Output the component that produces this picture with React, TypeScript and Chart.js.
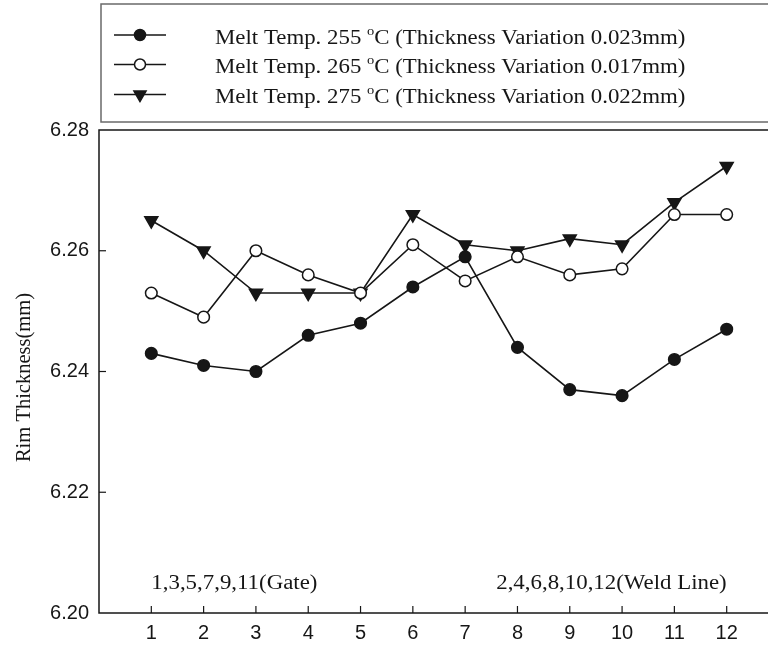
import React, { useEffect, useRef } from "react";
import { Chart, registerables } from "chart.js";

Chart.register(...registerables);

// ---- data ----
const positions = [1, 2, 3, 4, 5, 6, 7, 8, 9, 10, 11, 12];
const melt255 = [6.243, 6.241, 6.24, 6.246, 6.248, 6.254, 6.259, 6.244, 6.237, 6.236, 6.242, 6.247];
const melt265 = [6.253, 6.249, 6.26, 6.256, 6.253, 6.261, 6.255, 6.259, 6.256, 6.257, 6.266, 6.266];
const melt275 = [6.265, 6.26, 6.253, 6.253, 6.253, 6.266, 6.261, 6.26, 6.262, 6.261, 6.268, 6.274];
const seriesLabels = [
  "Melt Temp. 255 °C (Thickness Variation 0.023mm)",
  "Melt Temp. 265 °C (Thickness Variation 0.017mm)",
  "Melt Temp. 275 °C (Thickness Variation 0.022mm)",
];
const xTickLabels = ["1", "2", "3", "4", "5", "6", "7", "8", "9", "10", "11", "12"];
const yTickValues = [6.2, 6.22, 6.24, 6.26, 6.28];
const yTitle = "Rim Thickness(mm)";
const noteTexts = ["1,3,5,7,9,11(Gate)", "2,4,6,8,10,12(Weld Line)"];
const noteAnchorsX = [1, 12];
const noteAnchorY = 6.204;

// ---- style ----
const INK = "#161616";
const CANVAS_W = 800;
const CANVAS_H = 646;
const SERIF = '"Liberation Serif", "Times New Roman", serif';
const SANS = '"Liberation Sans", Arial, sans-serif';
const STRETCH = 1.115;

type MarkerKind = "filled" | "open" | "tri";
const markerKinds: MarkerKind[] = ["filled", "open", "tri"];

function drawMarker(ctx: CanvasRenderingContext2D, kind: MarkerKind, x: number, y: number) {
  ctx.save();
  ctx.lineWidth = 1.5;
  ctx.strokeStyle = INK;
  ctx.beginPath();
  if (kind === "tri") {
    const r = 7;
    ctx.moveTo(x, y + r);
    ctx.lineTo(x - r * Math.sin(Math.PI / 3), y - r / 2);
    ctx.lineTo(x + r * Math.sin(Math.PI / 3), y - r / 2);
    ctx.closePath();
    ctx.fillStyle = INK;
  } else {
    ctx.arc(x, y, 5.5, 0, Math.PI * 2);
    ctx.fillStyle = kind === "filled" ? INK : "#ffffff";
  }
  ctx.fill();
  ctx.stroke();
  ctx.restore();
}

// draws text with slight horizontal stretch, returns the advance width
function wideText(ctx: CanvasRenderingContext2D, text: string, x: number, y: number, font: string, align: CanvasTextAlign) {
  ctx.save();
  ctx.font = font;
  ctx.translate(x, y);
  ctx.scale(STRETCH, 1);
  ctx.textAlign = align;
  ctx.fillText(text, 0, 0);
  const w = ctx.measureText(text).width * STRETCH;
  ctx.restore();
  return w;
}

const framePlugin = {
  id: "frameAndExtras",
  afterDraw(chart: any) {
    const { ctx, chartArea } = chart;
    const xs = chart.scales.x;
    const ys = chart.scales.y;
    ctx.save();
    // plot frame
    ctx.strokeStyle = INK;
    ctx.lineWidth = 1.5;
    ctx.strokeRect(chartArea.left, chartArea.top, chartArea.right - chartArea.left, chartArea.bottom - chartArea.top);
    // inward ticks
    ctx.lineWidth = 1.2;
    ys.ticks.forEach((t: any) => {
      if (t.value <= ys.min + 1e-9 || t.value >= ys.max - 1e-9) return;
      const py = ys.getPixelForValue(t.value);
      ctx.beginPath();
      ctx.moveTo(chartArea.left, py);
      ctx.lineTo(chartArea.left + 7, py);
      ctx.stroke();
    });
    xs.ticks.forEach((t: any) => {
      if (t.value < 1 || t.value > 12) return;
      const px = xs.getPixelForValue(t.value);
      ctx.beginPath();
      ctx.moveTo(px, chartArea.bottom);
      ctx.lineTo(px, chartArea.bottom - 7);
      ctx.stroke();
    });
    // y title
    ctx.save();
    ctx.translate(25, (chartArea.top + chartArea.bottom) / 2 + 6);
    ctx.rotate(-Math.PI / 2);
    ctx.fillStyle = INK;
    ctx.font = `20.5px ${SERIF}`;
    ctx.textAlign = "center";
    ctx.textBaseline = "middle";
    ctx.fillText(yTitle, 0, 0);
    ctx.restore();
    // notes
    ctx.fillStyle = INK;
    ctx.textBaseline = "alphabetic";
    noteTexts.forEach((txt, i) => {
      wideText(ctx, txt, xs.getPixelForValue(noteAnchorsX[i]), ys.getPixelForValue(noteAnchorY), `20.5px ${SERIF}`, i === 0 ? "left" : "right");
    });
    // legend box
    ctx.strokeStyle = "#6a6a6a";
    ctx.lineWidth = 1.5;
    ctx.strokeRect(101, 4, CANVAS_W, 118);
    const markerY = [35, 64.5, 94.5];
    const textY = [38.3, 67.6, 97.4];
    chart.data.datasets.forEach((ds: any, i: number) => {
      const y = markerY[i];
      ctx.strokeStyle = INK;
      ctx.lineWidth = 1.5;
      ctx.beginPath();
      ctx.moveTo(114, y);
      ctx.lineTo(166, y);
      ctx.stroke();
      drawMarker(ctx, markerKinds[i], 140, y);
      const label: string = ds.label;
      const [before, after] = label.split("°");
      ctx.fillStyle = INK;
      ctx.textBaseline = "middle";
      const ty = textY[i];
      let x = 215;
      x += wideText(ctx, before, x, ty, `20.5px ${SERIF}`, "left");
      x += wideText(ctx, "o", x, ty - 7, `13px ${SERIF}`, "left");
      wideText(ctx, after, x, ty, `20.5px ${SERIF}`, "left");
    });
    ctx.restore();
  },
};

export default function App() {
  const ref = useRef<HTMLCanvasElement | null>(null);
  useEffect(() => {
    if (!ref.current) return;
    const series = [melt255, melt265, melt275];
    const chart = new Chart(ref.current, {
      type: "line",
      data: {
        datasets: series.map((vals, i) => ({
          label: seriesLabels[i],
          data: positions.map((p, j) => ({ x: p, y: vals[j] })),
          borderColor: INK,
          borderWidth: 1.6,
          tension: 0,
          pointStyle: markerKinds[i] === "tri" ? "triangle" : "circle",
          rotation: markerKinds[i] === "tri" ? 180 : 0,
          pointRadius: markerKinds[i] === "tri" ? 7.5 : 5.8,
          pointBorderWidth: 1.5,
          pointBorderColor: INK,
          pointBackgroundColor: markerKinds[i] === "open" ? "#ffffff" : INK,
        })),
      },
      options: {
        responsive: false,
        animation: false,
        layout: { padding: { top: 130, left: 0, right: CANVAS_W - 779, bottom: 0 } },
        plugins: { legend: { display: false }, tooltip: { enabled: false } },
        scales: {
          x: {
            type: "linear",
            min: 0,
            max: 13,
            afterFit: (s: any) => { s.height = 33; },
            afterBuildTicks: (s: any) => {
              s.ticks = Array.from({ length: 14 }, (_, i) => ({ value: i }));
            },
            ticks: {
              autoSkip: false,
              maxRotation: 0,
              padding: 8,
              color: INK,
              font: { family: SANS, size: 20 },
              callback: (v: any) => {
                const idx = positions.indexOf(Number(v));
                return idx >= 0 ? xTickLabels[idx] : "";
              },
            },
            grid: { drawOnChartArea: false, drawTicks: false },
            border: { display: false },
          },
          y: {
            min: 6.2,
            max: 6.28,
            afterFit: (s: any) => { s.width = 99; },
            afterBuildTicks: (s: any) => {
              s.ticks = yTickValues.map((v) => ({ value: v }));
            },
            ticks: {
              padding: 10,
              color: INK,
              font: { family: SANS, size: 20 },
              callback: (v: any) => Number(v).toFixed(2),
            },
            grid: { drawOnChartArea: false, drawTicks: false },
            border: { display: false },
          },
        },
      },
      plugins: [framePlugin],
    });
    return () => chart.destroy();
  }, []);
  return (
    <div style={{ position: "absolute", left: 0, top: 0, width: 768, height: 646, overflow: "hidden", background: "#fff" }}>
      <canvas ref={ref} width={CANVAS_W} height={CANVAS_H} style={{ width: CANVAS_W, height: CANVAS_H, display: "block" }} />
    </div>
  );
}
